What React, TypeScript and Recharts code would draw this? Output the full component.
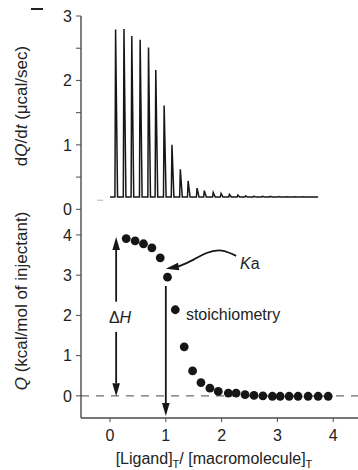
import React from 'react';
import {
  ComposedChart,
  Line,
  Scatter,
  XAxis,
  YAxis,
  ReferenceLine,
  ReferenceDot,
} from 'recharts';

const FONT = '"Liberation Sans", Arial, Helvetica, sans-serif';
const INK = '#161616';
const AXIS = '#4a4a4a';

// ---------- top panel: raw thermogram ----------
const injectionX = [0.1, 0.25, 0.39, 0.54, 0.69, 0.82, 0.97, 1.11, 1.26, 1.4, 1.56, 1.69, 1.85, 1.99, 2.14, 2.29, 2.43, 2.58, 2.73, 2.87, 3.02, 3.17, 3.31, 3.46];
const peakHeights = [2.79, 2.8, 2.69, 2.63, 2.51, 2.16, 1.61, 1.0, 0.62, 0.44, 0.33, 0.29, 0.26, 0.245, 0.23, 0.22, 0.21, 0.205, 0.2, 0.2, 0.198, 0.196, 0.195, 0.195];
const baselineLevel = 0.19;
const baselineStart = 0.0;
const baselineEnd = 3.73;
const preBaseline = [
  { x: -0.23, y: 0.14 },
  { x: -0.12, y: 0.14 },
];
const topYTicks = [0, 0.5, 1, 1.5, 2, 2.5, 3];

// ---------- bottom panel: binding isotherm ----------
const ratioX = [0.29, 0.45, 0.6, 0.75, 0.9, 1.03, 1.17, 1.33, 1.48, 1.63, 1.79, 1.94, 2.12, 2.26, 2.42, 2.58, 2.74, 2.91, 3.05, 3.21, 3.37, 3.55, 3.73, 3.91];
const heatQ = [3.91, 3.85, 3.78, 3.68, 3.43, 2.95, 2.14, 1.22, 0.62, 0.33, 0.19, 0.11, 0.07, 0.07, 0.03, 0.01, 0.0, -0.01, -0.01, -0.01, -0.01, -0.01, -0.01, -0.01];
const bottomYTicks = [0, 1, 2, 3, 4];
const xTicks = [0, 1, 2, 3, 4];

// annotations (data coordinates)
const deltaHX = 0.11;
const deltaHTop = 3.95;
const deltaHBottom = -0.01;
const deltaHGapTop = 2.34;
const deltaHGapBottom = 1.59;
const stoichX = 1.0;
const stoichFrom = 2.73;
const stoichTo = -0.5;
const kaCurve = [
  { x: 2.26, y: 3.48 },
  { x: 2.0, y: 3.61 },
  { x: 1.73, y: 3.55 },
  { x: 1.49, y: 3.38 },
  { x: 1.22, y: 3.21 },
];
const kaTip = { x: 1.0, y: 3.16 };

const X_DOMAIN: [number, number] = [-0.52, 4.48];
const TOP_Y_DOMAIN: [number, number] = [-0.104, 3.0];
const BOTTOM_Y_DOMAIN: [number, number] = [-0.55, 4.47];

const thermogram = (() => {
  const pts: { x: number; y: number }[] = [{ x: baselineStart, y: baselineLevel }];
  injectionX.forEach((t, i) => {
    pts.push({ x: t - 0.012, y: baselineLevel });
    pts.push({ x: t, y: peakHeights[i] });
    pts.push({ x: t + 0.035, y: baselineLevel });
  });
  pts.push({ x: baselineEnd, y: baselineLevel });
  return pts;
})();

const binding = ratioX.map((x, i) => ({ x, y: heatQ[i] }));

const tickStyle = { fill: '#222', fontSize: 16, fontFamily: FONT };

const arrowShape = (props: any) => {
  const { x1, y1, x2, y2 } = props;
  const dx = x2 - x1;
  const dy = y2 - y1;
  const len = Math.hypot(dx, dy) || 1;
  const ux = dx / len;
  const uy = dy / len;
  const L = 13;
  const W = 3.8;
  const bx = x2 - ux * L;
  const by = y2 - uy * L;
  const px = -uy;
  const py = ux;
  return (
    <g>
      {len > L && <line x1={x1} y1={y1} x2={bx} y2={by} stroke={INK} strokeWidth={1.8} />}
      <polygon points={`${x2},${y2} ${bx + px * W},${by + py * W} ${bx - px * W},${by - py * W}`} fill={INK} />
    </g>
  );
};

const dotShape = (p: any) => <circle cx={p.cx} cy={p.cy} r={4.4} fill={INK} />;

const textAt = (content: React.ReactNode, anchor: 'start' | 'middle' | 'end') => (p: any) => (
  <text x={p.cx} y={p.cy} textAnchor={anchor} dominantBaseline="central" fill="#222" fontSize={16} fontFamily={FONT}>
    {content}
  </text>
);

const topYTitle = (props: any) => {
  const vb = props.viewBox || { x: 0, y: 16, width: 81, height: 200 };
  const cx = vb.x + 21;
  const cy = vb.y + vb.height / 2 - 10;
  return (
    <text x={cx} y={cy} transform={`rotate(-90, ${cx}, ${cy})`} textAnchor="middle" dominantBaseline="central" fill="#222" fontSize={17} fontFamily={FONT}>
      d<tspan fontStyle="italic">Q</tspan>/d<tspan fontStyle="italic">t</tspan> (μcal/sec)
    </text>
  );
};

const bottomYTitle = (props: any) => {
  const vb = props.viewBox || { x: 0, y: 216, width: 81, height: 202 };
  const cx = vb.x + 21;
  const cy = vb.y + vb.height / 2 - 16;
  return (
    <text x={cx} y={cy} transform={`rotate(-90, ${cx}, ${cy})`} textAnchor="middle" dominantBaseline="central" fill="#222" fontSize={17} fontFamily={FONT}>
      <tspan fontStyle="italic">Q</tspan> (kcal/mol of injectant)
    </text>
  );
};

const xTitle = (props: any) => {
  const vb = props.viewBox || { x: 81, y: 418, width: 279, height: 52 };
  const cx = vb.x + vb.width / 2 - 6.5;
  const y = vb.y + 46;
  return (
    <text x={cx} y={y} textAnchor="middle" fill="#222" fontSize={16} fontFamily={FONT}>
      [Ligand]
      <tspan fontSize={11} dy={4}>T</tspan>
      <tspan dy={-4}>/ [macromolecule]</tspan>
      <tspan fontSize={11} dy={4}>T</tspan>
    </text>
  );
};

export default function App() {
  return (
    <div style={{ position: 'absolute', left: 0, top: 0, width: 358, height: 470, overflow: 'hidden', background: '#fff' }}>
      <div style={{ position: 'absolute', left: 31, top: 8, width: 12, height: 2, background: '#222' }} />
      <div style={{ position: 'absolute', left: 0, top: 0 }}>
        <ComposedChart width={362} height={218} margin={{ top: 16, right: 2, bottom: 2, left: 0 }}>
          <XAxis type="number" dataKey="x" domain={X_DOMAIN} allowDataOverflow hide />
          <XAxis
            xAxisId="frame"
            orientation="top"
            type="number"
            domain={X_DOMAIN}
            allowDataOverflow
            height={0}
            tick={false}
            tickLine={false}
            axisLine={{ stroke: AXIS, strokeWidth: 1.4 }}
          />
          <YAxis
            type="number"
            dataKey="y"
            domain={TOP_Y_DOMAIN}
            allowDataOverflow
            ticks={topYTicks}
            interval={0}
            width={81}
            tickSize={5}
            tickMargin={4}
            tick={tickStyle}
            tickFormatter={(v: number) => (Number.isInteger(v) ? String(v) : '')}
            axisLine={{ stroke: AXIS, strokeWidth: 1.4 }}
            tickLine={{ stroke: AXIS }}
            label={topYTitle}
          />
          <Line data={preBaseline} dataKey="y" type="linear" stroke="#c4c4c4" strokeWidth={1.2} dot={false} isAnimationActive={false} />
          <Line data={thermogram} dataKey="y" type="linear" stroke={INK} strokeWidth={1.5} dot={false} isAnimationActive={false} />
        </ComposedChart>
      </div>
      <div style={{ position: 'absolute', left: 0, top: 0 }}>
        <ComposedChart width={362} height={470} margin={{ top: 216, right: 2, bottom: 0, left: 0 }}>
          <XAxis
            type="number"
            dataKey="x"
            domain={X_DOMAIN}
            allowDataOverflow
            ticks={xTicks}
            interval={0}
            height={52}
            tickSize={4}
            tickMargin={8}
            tick={tickStyle}
            axisLine={{ stroke: AXIS, strokeWidth: 1.4 }}
            tickLine={{ stroke: AXIS }}
            label={xTitle}
          />
          <XAxis
            xAxisId="frame"
            orientation="top"
            mirror
            type="number"
            domain={X_DOMAIN}
            allowDataOverflow
            ticks={xTicks}
            interval={0}
            height={0}
            tickSize={6}
            tick={false}
            axisLine={{ stroke: AXIS, strokeWidth: 1.4 }}
            tickLine={{ stroke: AXIS }}
          />
          <YAxis
            type="number"
            dataKey="y"
            domain={BOTTOM_Y_DOMAIN}
            allowDataOverflow
            ticks={bottomYTicks}
            interval={0}
            width={81}
            tickSize={5}
            tickMargin={4}
            tick={tickStyle}
            axisLine={{ stroke: AXIS, strokeWidth: 1.4 }}
            tickLine={{ stroke: AXIS }}
            label={bottomYTitle}
          />
          <ReferenceLine y={0} stroke="#6e6e6e" strokeWidth={1.4} strokeDasharray="8 7" />
          <ReferenceLine segment={[{ x: deltaHX, y: deltaHGapTop }, { x: deltaHX, y: deltaHTop }]} shape={arrowShape} />
          <ReferenceLine segment={[{ x: deltaHX, y: deltaHGapBottom }, { x: deltaHX, y: deltaHBottom }]} shape={arrowShape} />
          <ReferenceLine segment={[{ x: stoichX, y: stoichFrom }, { x: stoichX, y: stoichTo }]} shape={arrowShape} />
          <Line data={kaCurve} dataKey="y" type="natural" stroke={INK} strokeWidth={1.8} dot={false} isAnimationActive={false} />
          <ReferenceLine segment={[kaCurve[kaCurve.length - 1], kaTip]} shape={arrowShape} />
          <Scatter data={binding} dataKey="y" shape={dotShape} isAnimationActive={false} />
          <ReferenceDot x={0.18} y={1.96} shape={textAt(<>Δ<tspan fontStyle="italic">H</tspan></>, 'middle')} />
          <ReferenceDot x={2.33} y={3.3} shape={textAt(<><tspan fontStyle="italic">K</tspan>a</>, 'start')} />
          <ReferenceDot x={1.36} y={2.01} shape={textAt('stoichiometry', 'start')} />
        </ComposedChart>
      </div>
    </div>
  );
}
